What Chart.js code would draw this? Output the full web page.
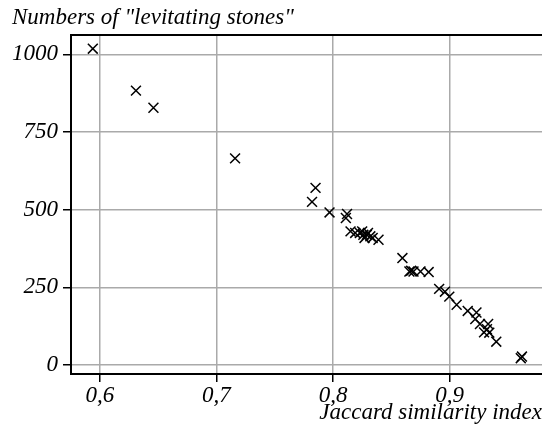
<!DOCTYPE html>
<html>
<head>
<meta charset="utf-8">
<script src="https://cdn.jsdelivr.net/npm/chart.js@4/dist/chart.umd.min.js"></script>
<style>
  html, body { margin: 0; padding: 0; background: #fff; }
  canvas { display: block; }
</style>
</head>
<body>
<canvas id="chart1" width="542" height="428"></canvas>
<script>
// values
const jaccard = [0.594, 0.631, 0.646, 0.716, 0.785, 0.782, 0.797, 0.812, 0.811,
    0.815, 0.819, 0.823, 0.825, 0.826, 0.829, 0.830, 0.827, 0.832, 0.834, 0.839,
    0.8595, 0.8655, 0.867, 0.869, 0.875, 0.882, 0.891, 0.896, 0.8997, 0.906,
    0.9155, 0.923, 0.922, 0.926, 0.933, 0.932, 0.9295, 0.934, 0.940, 0.961, 0.962];
const stones = [1018, 883, 828, 665, 570, 525, 491, 486, 473,
    430, 425, 425, 430, 419, 419, 425, 409, 414, 409, 403,
    344, 301, 303, 301, 301, 299, 245, 236, 220, 194,
    174, 169, 148, 132, 132, 115, 105, 104, 75, 22, 27];
const xTicks = [0.6, 0.7, 0.8, 0.9];
const yTicks = [0, 250, 500, 750, 1000];

const serif = { family: '"Liberation Serif", "Times New Roman", serif', size: 23, style: 'italic' };

const points = jaccard.map((x, i) => ({ x: x, y: stones[i] }));

// title on top and the upper border line
const extras = {
    id: 'extras',
    afterDraw(chart) {
        const c = chart.ctx;
        const a = chart.chartArea;
        c.save();
        c.strokeStyle = '#000';
        c.lineWidth = 2;
        c.beginPath();
        c.moveTo(a.left - 1, a.top);
        c.lineTo(a.right, a.top);
        c.stroke();
        c.fillStyle = '#000';
        c.font = 'italic 23px "Liberation Serif", serif';
        c.textBaseline = 'middle';
        c.fillText('Numbers of "levitating stones"', 12, 18);
        c.restore();
    }
};

const ctx1 = document.getElementById('chart1').getContext('2d');
const chart1 = new Chart(ctx1, {
    type: 'scatter',
    data: {
        datasets: [{
            label: 'stones',
            data: points,
            pointStyle: 'crossRot',
            pointRadius: 7,
            pointHoverRadius: 7,
            borderColor: '#000',
            backgroundColor: '#000',
            pointBorderWidth: 1.5
        }]
    },
    options: {
        responsive: false,
        animation: false,
        layout: { autoPadding: false, padding: { top: 35, left: 0, right: 0, bottom: 0 } },
        plugins: { legend: { display: false }, tooltip: { enabled: false } },
        scales: {
            x: {
                type: 'linear',
                min: 0.5753,
                max: 0.9792,
                afterBuildTicks: (s) => { s.ticks = xTicks.map(v => ({ value: v })); },
                afterFit: (s) => { s.height = 54; },
                border: { color: '#000', width: 2 },
                grid: { color: '#aaa', lineWidth: 1.5, tickColor: '#000', tickLength: 8, tickWidth: 1.5 },
                ticks: {
                    color: '#000', font: serif, padding: 0, maxRotation: 0, autoSkip: false,
                    callback: (v) => v.toFixed(1).replace('.', ',')
                },
                title: {
                    display: true, text: 'Jaccard similarity index', align: 'end',
                    color: '#000', font: serif, padding: { top: 0, bottom: 1 }
                }
            },
            y: {
                type: 'linear',
                min: -29,
                max: 1062,
                afterBuildTicks: (s) => { s.ticks = yTicks.map(v => ({ value: v })); },
                afterFit: (s) => { s.width = 71; },
                border: { color: '#000', width: 2 },
                grid: { color: '#aaa', lineWidth: 1.5, tickColor: '#000', tickLength: 8, tickWidth: 1.5 },
                ticks: { color: '#000', font: serif, padding: 5, autoSkip: false, callback: (v) => String(v) }
            }
        }
    },
    plugins: [extras]
});
</script>
</body>
</html>
